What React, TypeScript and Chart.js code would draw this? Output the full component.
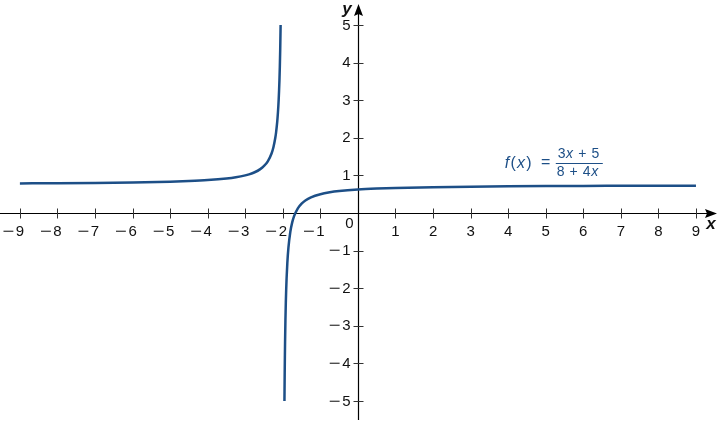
import { useEffect, useRef } from "react";
import { Chart, registerables } from "chart.js";

Chart.register(...registerables);

// Left branch of f(x) = (3x + 5) / (8 + 4x), x < -2
const leftX = [-9, -8, -7, -6, -5, -4.5, -4, -3.5, -3.25, -3, -2.9, -2.75, -2.6, -2.5, -2.4, -2.3, -2.25, -2.2, -2.18, -2.15, -2.13, -2.12, -2.11, -2.1, -2.09, -2.08, -2.07, -2.0588];
const leftY = [0.7857, 0.7917, 0.8, 0.8125, 0.8333, 0.85, 0.875, 0.9167, 0.95, 1.0, 1.0278, 1.0833, 1.1667, 1.25, 1.375, 1.5833, 1.75, 2.0, 2.1389, 2.4167, 2.6731, 2.8333, 3.0227, 3.25, 3.5278, 3.875, 4.3214, 5.0];

// Right branch, x > -2
const rightX = [-1.9565, -1.95, -1.945, -1.94, -1.93, -1.92, -1.91, -1.9, -1.88, -1.85, -1.8, -1.75, -1.7, -1.6, -1.5, -1.4, -1.25, -1, -0.75, -0.5, 0, 0.5, 1, 2, 3, 4, 5, 6, 7, 8, 9];
const rightY = [-5.0, -4.25, -3.7955, -3.4167, -2.8214, -2.375, -2.0278, -1.75, -1.3333, -0.9167, -0.5, -0.25, -0.0833, 0.125, 0.25, 0.3333, 0.4167, 0.5, 0.55, 0.5833, 0.625, 0.65, 0.6667, 0.6875, 0.7, 0.7083, 0.7143, 0.7188, 0.7222, 0.725, 0.7273];

const xTicks = [-9, -8, -7, -6, -5, -4, -3, -2, -1, 1, 2, 3, 4, 5, 6, 7, 8, 9];
const xTickLabels = ["−9", "−8", "−7", "−6", "−5", "−4", "−3", "−2", "−1", "1", "2", "3", "4", "5", "6", "7", "8", "9"];
const yTicks = [-5, -4, -3, -2, -1, 1, 2, 3, 4, 5];
const yTickLabels = ["−5", "−4", "−3", "−2", "−1", "1", "2", "3", "4", "5"];

const CURVE = "#1d4f87";
const FONT = "'Liberation Sans', Arial, sans-serif";
const MINUS = "−";

function drawRuns(ctx: CanvasRenderingContext2D, runs: { t: string; it: boolean }[], cx: number, cy: number, size: number) {
  let total = 0;
  const widths = runs.map((r) => {
    ctx.font = `${r.it ? "italic " : ""}${size}px ${FONT}`;
    const w = ctx.measureText(r.t).width;
    total += w;
    return w;
  });
  let x = cx - total / 2;
  runs.forEach((r, i) => {
    ctx.font = `${r.it ? "italic " : ""}${size}px ${FONT}`;
    ctx.textAlign = "left";
    ctx.textBaseline = "middle";
    ctx.fillText(r.t, x, cy);
    x += widths[i];
  });
}

// draws "−n" with a wide minus and a small gap after it
function drawSigned(ctx: CanvasRenderingContext2D, label: string, rightX: number, cy: number) {
  ctx.textAlign = "right";
  ctx.textBaseline = "middle";
  if (label.startsWith(MINUS)) {
    const digits = label.slice(1);
    ctx.fillText(digits, rightX, cy);
    const w = ctx.measureText(digits).width;
    ctx.save();
    ctx.translate(rightX - w - 1.5, cy);
    ctx.scale(1.35, 1);
    ctx.fillText(MINUS, 0, 0);
    ctx.restore();
  } else {
    ctx.fillText(label, rightX, cy);
  }
}

const decor = {
  id: "decor",
  beforeDatasetsDraw(chart: any) {
    const { ctx } = chart;
    const xs = chart.scales.x;
    const ys = chart.scales.y;
    const x0 = Math.round(xs.getPixelForValue(0)) + 0.5;
    const y0 = Math.round(ys.getPixelForValue(0)) + 0.5;
    ctx.save();
    ctx.strokeStyle = "#000";
    ctx.fillStyle = "#000";
    ctx.lineWidth = 1.2;
    // x axis
    ctx.beginPath();
    ctx.moveTo(xs.left, y0);
    ctx.lineTo(xs.right - 8, y0);
    ctx.stroke();
    ctx.beginPath();
    ctx.moveTo(xs.right, y0);
    ctx.lineTo(xs.right - 12, y0 - 4.5);
    ctx.lineTo(xs.right - 10, y0);
    ctx.lineTo(xs.right - 12, y0 + 4.5);
    ctx.closePath();
    ctx.fill();
    // y axis
    ctx.beginPath();
    ctx.moveTo(x0, ys.bottom - 2);
    ctx.lineTo(x0, ys.top + 12);
    ctx.stroke();
    ctx.beginPath();
    ctx.moveTo(x0, ys.top + 4);
    ctx.lineTo(x0 - 4.5, ys.top + 16);
    ctx.lineTo(x0, ys.top + 14);
    ctx.lineTo(x0 + 4.5, ys.top + 16);
    ctx.closePath();
    ctx.fill();
    // tick marks
    ctx.strokeStyle = "#333";
    ctx.lineWidth = 1;
    ctx.beginPath();
    xTicks.forEach((v) => {
      const p = Math.round(xs.getPixelForValue(v)) + 0.5;
      ctx.moveTo(p, y0 - 5);
      ctx.lineTo(p, y0 + 5);
    });
    yTicks.forEach((v) => {
      const p = Math.round(ys.getPixelForValue(v)) + 0.5;
      ctx.moveTo(x0 - 5, p);
      ctx.lineTo(x0 + 5, p);
    });
    ctx.stroke();

    // tick labels
    ctx.fillStyle = "#111";
    ctx.font = `15px ${FONT}`;
    xTicks.forEach((v, i) => {
      const lab = xTickLabels[i];
      const digits = lab.startsWith(MINUS) ? lab.slice(1) : lab;
      const dw = ctx.measureText(digits).width;
      drawSigned(ctx, lab, xs.getPixelForValue(v) + dw / 2, y0 + 18);
    });
    yTicks.forEach((v, i) => {
      drawSigned(ctx, yTickLabels[i], x0 - 8, ys.getPixelForValue(v) + 0.5);
    });
    ctx.textAlign = "right";
    ctx.fillText("0", x0 - 5, y0 + 10);
    ctx.restore();
  },
  afterDraw(chart: any) {
    const { ctx } = chart;
    const xs = chart.scales.x;
    const ys = chart.scales.y;
    const x0 = xs.getPixelForValue(0);
    const y0 = ys.getPixelForValue(0);
    ctx.save();
    ctx.fillStyle = "#111";
    ctx.font = `italic bold 17px ${FONT}`;
    ctx.textAlign = "center";
    ctx.textBaseline = "middle";
    ctx.fillText("y", x0 - 11, ys.top + 9);
    ctx.fillText("x", xs.right - 6, y0 + 11);

    // function label
    ctx.fillStyle = CURVE;
    ctx.strokeStyle = CURVE;
    const lx = xs.getPixelForValue(5.88);
    const ly = Math.round(ys.getPixelForValue(1.33));
    (ctx as any).letterSpacing = "1.2px";
    drawRuns(ctx, [{ t: "f", it: true }, { t: "(", it: false }, { t: "x", it: true }, { t: ")", it: false }], lx - 60, ly + 0.5, 16);
    (ctx as any).letterSpacing = "0px";
    drawRuns(ctx, [{ t: "=", it: false }], lx - 33, ly, 16);
    (ctx as any).letterSpacing = "0.6px";
    drawRuns(ctx, [{ t: "3", it: false }, { t: "x", it: true }, { t: " + 5", it: false }], lx, ly - 9, 14);
    drawRuns(ctx, [{ t: "8 + 4", it: false }, { t: "x", it: true }], lx - 1, ly + 9, 14);
    (ctx as any).letterSpacing = "0px";
    ctx.lineWidth = 1;
    ctx.beginPath();
    ctx.moveTo(lx - 23, ly + 0.5);
    ctx.lineTo(lx + 24, ly + 0.5);
    ctx.stroke();
    ctx.restore();
  },
};

export default function App() {
  const ref = useRef<HTMLCanvasElement | null>(null);
  useEffect(() => {
    if (!ref.current) return;
    const chart = new Chart(ref.current, {
      type: "line",
      data: {
        datasets: [
          {
            data: leftX.map((x, i) => ({ x, y: leftY[i] })),
            borderColor: CURVE,
            borderWidth: 2.5,
            pointRadius: 0,
            cubicInterpolationMode: "monotone",
            fill: false,
          },
          {
            data: rightX.map((x, i) => ({ x, y: rightY[i] })),
            borderColor: CURVE,
            borderWidth: 2.5,
            pointRadius: 0,
            cubicInterpolationMode: "monotone",
            fill: false,
          },
        ],
      },
      options: {
        animation: false,
        responsive: false,
        maintainAspectRatio: false,
        layout: { padding: 0 },
        plugins: { legend: { display: false }, tooltip: { enabled: false }, title: { display: false } },
        events: [],
        scales: {
          x: {
            type: "linear",
            min: -9.53,
            max: 9.56,
            position: { y: 0 } as any,
            grid: { display: false, drawTicks: false },
            border: { display: false },
            afterBuildTicks: (s: any) => {
              s.ticks = xTicks.map((v) => ({ value: v }));
            },
            ticks: { display: false },
          },
          y: {
            type: "linear",
            min: -5.56,
            max: 5.665,
            position: { x: 0 } as any,
            grid: { display: false, drawTicks: false },
            border: { display: false },
            afterBuildTicks: (s: any) => {
              s.ticks = yTicks.map((v) => ({ value: v }));
            },
            ticks: { display: false },
          },
        },
      },
      plugins: [decor],
    });
    return () => chart.destroy();
  }, []);
  return (
    <div style={{ position: "fixed", left: 0, top: 0, width: 717, height: 422, background: "#fff" }}>
      <canvas ref={ref} width={717} height={422} style={{ display: "block", width: 717, height: 422 }} />
    </div>
  );
}
